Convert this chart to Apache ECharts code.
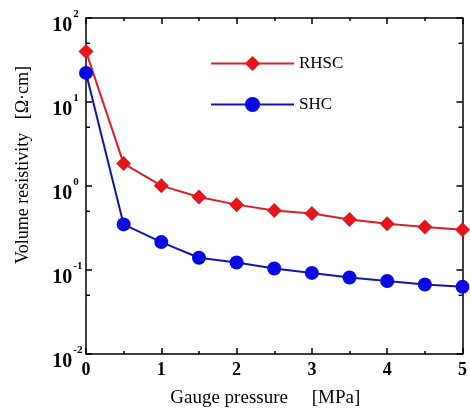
<!DOCTYPE html>
<html><head><meta charset="utf-8">
<script src="https://cdn.jsdelivr.net/npm/echarts@6/dist/echarts.min.js"></script>
<style>html,body{margin:0;padding:0;background:#fff}#c{width:470px;height:414px}</style>
</head><body><div id="c"></div>
<script>
const pressure = [0, 0.5, 1, 1.5, 2, 2.5, 3, 3.5, 4, 4.5, 5];
const rhsc = [40, 1.85, 1.01, 0.74, 0.60, 0.51, 0.47, 0.40, 0.356, 0.324, 0.302];
const shc = [22.2, 0.349, 0.215, 0.140, 0.1226, 0.104, 0.0923, 0.0813, 0.0741, 0.0672, 0.063];
const xTicks = [0, 1, 2, 3, 4, 5];
const yMinorTicks = [0.05, 0.5, 5, 50];
const seriesNames = ['RHSC', 'SHC'];

const serif = '"Liberation Serif", "DejaVu Serif", serif';
const chart = echarts.init(document.getElementById('c'));
const axisLineStyle = {color: '#000', width: 1.5};
const tickStyle = {color: '#000', width: 1.5};
chart.setOption({
  animation: false,
  backgroundColor: '#fff',
  grid: {left: 86, right: 7, top: 18, bottom: 60, show: false},
  legend: {
    data: seriesNames, orient: 'vertical', left: 205, top: 50,
    itemWidth: 83, itemHeight: 19, itemGap: 24,
    textStyle: {fontFamily: serif, fontSize: 17, color: '#000'}
  },
  xAxis: [{
    type: 'value', min: 0, max: 5, interval: 1,
    name: 'Gauge pressure     [MPa]', nameLocation: 'middle', nameGap: 35,
    nameTextStyle: {fontFamily: serif, fontSize: 19, color: '#000', padding: [0, 18, 0, 0]},
    axisLine: {show: true, onZero: false, lineStyle: axisLineStyle},
    axisTick: {show: true, inside: true, length: 6, lineStyle: tickStyle},
    minorTick: {show: true, splitNumber: 2, length: 3, lineStyle: tickStyle},
    splitLine: {show: false},
    axisLabel: {fontFamily: serif, fontSize: 18, fontWeight: 'bold', color: '#000', margin: 7,
      formatter: v => xTicks.includes(v) ? String(v) : ''}
  }, {
    type: 'value', min: 0, max: 5, interval: 1, position: 'top',
    axisLine: {show: true, onZero: false, lineStyle: axisLineStyle},
    axisTick: {show: true, inside: true, length: 6, lineStyle: tickStyle},
    minorTick: {show: true, splitNumber: 2, length: 3, lineStyle: tickStyle},
    splitLine: {show: false}, axisLabel: {show: false}
  }],
  yAxis: [{
    type: 'log', logBase: 10, min: 0.01, max: 100, splitNumber: 4,
    name: 'Volume resistivity   [Ω·cm]', nameLocation: 'middle', nameGap: 54, nameRotate: 90,
    nameTextStyle: {fontFamily: serif, fontSize: 18, color: '#000', padding: [0, 0, 0, 42]},
    axisLine: {show: true, onZero: false, lineStyle: axisLineStyle},
    axisTick: {show: true, inside: true, length: 6, lineStyle: tickStyle},
    splitLine: {show: false},
    axisLabel: {
      margin: 34, align: 'left', verticalAlign: 'middle', padding: [8, 0, 0, 0],
      formatter: v => '{e| }{b|10}{s|' + Math.round(Math.log10(v)) + '}',
      rich: {
        e: {fontSize: 1, lineHeight: 27},
        b: {fontFamily: serif, fontSize: 20, fontWeight: 'bold', color: '#000', lineHeight: 20, verticalAlign: 'bottom'},
        s: {fontFamily: serif, fontSize: 11, fontWeight: 'bold', color: '#000', lineHeight: 11, verticalAlign: 'top', padding: [0, 0, 0, 1]}
      }
    }
  }, {
    type: 'log', logBase: 10, min: 0.01, max: 100, splitNumber: 4, position: 'right',
    axisLine: {show: true, onZero: false, lineStyle: axisLineStyle},
    axisTick: {show: true, inside: true, length: 6, lineStyle: tickStyle},
    splitLine: {show: false}, axisLabel: {show: false}
  }],
  series: [{
    name: 'RHSC', type: 'line', data: pressure.map((x, i) => [x, rhsc[i]]),
    symbol: 'diamond', symbolSize: 15, color: '#e5141c',
    lineStyle: {width: 2, color: '#d8202a'}, itemStyle: {color: '#e8141c'}
  }, {
    name: 'SHC', type: 'line', data: pressure.map((x, i) => [x, shc[i]]),
    symbol: 'circle', symbolSize: 14, color: '#0a0ad8',
    lineStyle: {width: 2, color: '#1414b0'}, itemStyle: {color: '#0a0ae0'}
  }, {
    type: 'custom', name: 'minor', silent: true,
    data: yMinorTicks.map(v => [0, v]),
    renderItem: (params, api) => {
      const v = api.value(1);
      const l = api.coord([0, v]);
      const r = api.coord([5, v]);
      const st = {stroke: '#000', lineWidth: 1.5};
      return {type: 'group', children: [
        {type: 'line', shape: {x1: l[0], y1: l[1], x2: l[0] + 4, y2: l[1]}, style: st},
        {type: 'line', shape: {x1: r[0], y1: r[1], x2: r[0] - 4, y2: r[1]}, style: st}
      ]};
    }
  }]
});
</script></body></html>
